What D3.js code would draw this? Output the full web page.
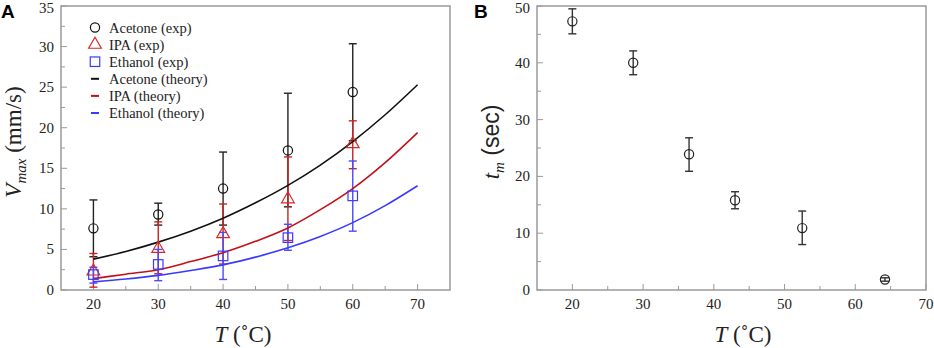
<!DOCTYPE html>
<html>
<head>
<meta charset="utf-8">
<script src="https://cdn.jsdelivr.net/npm/d3@7"></script>
<style>
  body { margin: 0; background: #fff; }
</style>
</head>
<body>
<div id="chart"></div>
<script>
// Data panel A (Vmax vs T)
const tempA = [20, 30, 40, 50, 60];
const acetoneExp = [7.6, 9.3, 12.5, 17.2, 24.4];
const acetoneLo = [4.1, 8.0, 8.0, 10.25, 18.4];
const acetoneHi = [11.1, 10.7, 17.0, 24.25, 30.35];
const ipaExp = [2.3, 5.1, 6.9, 11.2, 18.0];
const ipaLo = [0.35, 2.0, 3.2, 6.1, 14.95];
const ipaHi = [4.5, 8.4, 10.6, 16.4, 20.85];
const ethanolExp = [1.9, 3.15, 4.2, 6.45, 11.6];
const ethanolLo = [0.85, 1.15, 1.3, 4.9, 7.25];
const ethanolHi = [2.8, 5.0, 7.1, 8.1, 15.9];

const tempTheory = [20, 25, 30, 35, 40, 45, 50, 55, 60, 65, 70];
const acetoneTheory = [3.8, 4.75, 5.9, 7.25, 8.85, 10.75, 12.9, 15.4, 18.3, 21.6, 25.3];
const ipaTheory = [1.4, 1.95, 2.5, 3.5, 4.6, 6.0, 7.65, 9.9, 12.5, 15.7, 19.4];
const ethanolTheory = [1.0, 1.35, 1.8, 2.4, 3.1, 4.05, 5.2, 6.6, 8.3, 10.4, 12.85];

// Data panel B (tm vs T)
const tempB = [20, 28.6, 36.5, 43.0, 52.5, 64.2];
const tmVal = [47.3, 40.0, 23.9, 15.8, 10.9, 1.85];
const tmLo = [45.1, 37.9, 20.9, 14.3, 8.0, 1.55];
const tmHi = [49.5, 42.1, 26.8, 17.3, 13.9, 2.15];

const xTicksA = [20, 30, 40, 50, 60, 70];
const yTicksA = [0, 5, 10, 15, 20, 25, 30, 35];
const xTicksB = [20, 30, 40, 50, 60, 70];
const yTicksB = [0, 10, 20, 30, 40, 50];

const width = 934, height = 348;
const serif = "'Liberation Serif', Tinos, 'Times New Roman', 'DejaVu Serif', serif";
const sans = "'Liberation Sans', Arimo, Arial, sans-serif";

const svg = d3.select("#chart").append("svg")
  .attr("width", width).attr("height", height)
  .attr("font-family", serif);

const frameColor = "#9a9a9a";

function drawFrame(g, x, y, xTicks, yTicks, xMinor, yMinor) {
  const [x0, x1] = x.range();
  const [y0, y1] = y.range(); // y0 bottom
  // minor ticks
  g.selectAll(".xminor").data(xMinor).enter().append("line")
    .attr("x1", d => x(d)).attr("x2", d => x(d))
    .attr("y1", y0).attr("y2", y0 - 4)
    .attr("stroke", frameColor).attr("stroke-width", 1);
  g.selectAll(".yminor").data(yMinor).enter().append("line")
    .attr("x1", x0).attr("x2", x0 + 4)
    .attr("y1", d => y(d)).attr("y2", d => y(d))
    .attr("stroke", frameColor).attr("stroke-width", 1);
  g.selectAll(".xmajor").data(xTicks).enter().append("line")
    .attr("x1", d => x(d)).attr("x2", d => x(d))
    .attr("y1", y0).attr("y2", y0 - 6)
    .attr("stroke", frameColor).attr("stroke-width", 1);
  g.selectAll(".ymajor").data(yTicks).enter().append("line")
    .attr("x1", x0).attr("x2", x0 + 6)
    .attr("y1", d => y(d)).attr("y2", d => y(d))
    .attr("stroke", frameColor).attr("stroke-width", 1);
  g.append("rect")
    .attr("x", x0).attr("y", y1)
    .attr("width", x1 - x0).attr("height", y0 - y1)
    .attr("fill", "none").attr("stroke", frameColor).attr("stroke-width", 1.5);
  // tick labels
  g.selectAll(".xlab").data(xTicks).enter().append("text")
    .attr("x", d => x(d)).attr("y", y0 + 19)
    .attr("text-anchor", "middle")
    .attr("font-family", serif)
    .style("font-size", "15px").style("fill", "#222")
    .text(d => d);
  g.selectAll(".ylab").data(yTicks).enter().append("text")
    .attr("x", x0 - 7).attr("y", d => Math.max(y(d) + 5, 13))
    .attr("text-anchor", "end")
    .attr("font-family", serif)
    .style("font-size", "15px").style("fill", "#222")
    .text(d => d);
}

function errBars(g, xs, lo, hi, x, y, color, cap) {
  const rows = xs.map((t, i) => ({ t, lo: lo[i], hi: hi[i] }));
  const eg = g.append("g").attr("stroke", color).attr("stroke-width", 1.4);
  eg.selectAll(".v").data(rows).enter().append("line")
    .attr("x1", d => x(d.t)).attr("x2", d => x(d.t))
    .attr("y1", d => y(d.lo)).attr("y2", d => y(d.hi));
  eg.selectAll(".c1").data(rows).enter().append("line")
    .attr("x1", d => x(d.t) - cap).attr("x2", d => x(d.t) + cap)
    .attr("y1", d => y(d.hi)).attr("y2", d => y(d.hi));
  eg.selectAll(".c2").data(rows).enter().append("line")
    .attr("x1", d => x(d.t) - cap).attr("x2", d => x(d.t) + cap)
    .attr("y1", d => y(d.lo)).attr("y2", d => y(d.lo));
}

const triPath = d3.symbol().type(d3.symbolTriangle).size(70)();
const sqSide = 9.5;

// ---------- Panel A ----------
const gA = svg.append("g");
const xA = d3.scaleLinear().domain([15, 75]).range([61, 450]);
const yA = d3.scaleLinear().domain([0, 35]).range([290, 6]);

drawFrame(gA, xA, yA, xTicksA, yTicksA,
  [25, 35, 45, 55, 65],
  [2.5, 7.5, 12.5, 17.5, 22.5, 27.5, 32.5]);

const cBlack = "#111", cRed = "#c0111a", cRedMk = "#d42a2a", cBlue = "#3a3aff";

errBars(gA, tempA, acetoneLo, acetoneHi, xA, yA, "#222", 4);
errBars(gA, tempA, ipaLo, ipaHi, xA, yA, "#cc2222", 4);
errBars(gA, tempA, ethanolLo, ethanolHi, xA, yA, "#4a4aff", 4);

const line = d3.line().curve(d3.curveMonotoneX)
  .x(d => xA(d[0])).y(d => yA(d[1]));
[[acetoneTheory, cBlack], [ipaTheory, cRed], [ethanolTheory, cBlue]].forEach(([vals, col]) => {
  gA.append("path")
    .datum(tempTheory.map((t, i) => [t, vals[i]]))
    .attr("d", line)
    .attr("fill", "none").attr("stroke", col).attr("stroke-width", 1.6);
});

gA.selectAll(".mkA").data(tempA.map((t, i) => [t, acetoneExp[i]])).enter().append("circle")
  .attr("cx", d => xA(d[0])).attr("cy", d => yA(d[1])).attr("r", 4.6)
  .attr("fill", "none").attr("stroke", "#111").attr("stroke-width", 1.2);
gA.selectAll(".mkI").data(tempA.map((t, i) => [t, ipaExp[i]])).enter().append("path")
  .attr("d", triPath)
  .attr("transform", d => `translate(${xA(d[0])},${yA(d[1])})`)
  .attr("fill", "none").attr("stroke", cRedMk).attr("stroke-width", 1.2);
gA.selectAll(".mkE").data(tempA.map((t, i) => [t, ethanolExp[i]])).enter().append("rect")
  .attr("x", d => xA(d[0]) - sqSide / 2).attr("y", d => yA(d[1]) - sqSide / 2)
  .attr("width", sqSide).attr("height", sqSide)
  .attr("fill", "none").attr("stroke", cBlue).attr("stroke-width", 1.2);

// Legend
const legendItems = [
  { label: "Acetone (exp)", kind: "circle", color: "#111" },
  { label: "IPA (exp)", kind: "tri", color: cRedMk },
  { label: "Ethanol (exp)", kind: "sq", color: cBlue },
  { label: "Acetone (theory)", kind: "line", color: cBlack },
  { label: "IPA (theory)", kind: "line", color: cRed },
  { label: "Ethanol (theory)", kind: "line", color: cBlue }
];
const leg = gA.append("g").attr("transform", "translate(95,27.5)");
legendItems.forEach((d, i) => {
  const row = leg.append("g").attr("transform", `translate(0,${i * 17.1})`);
  if (d.kind === "circle") {
    row.append("circle").attr("r", 4.6).attr("fill", "none").attr("stroke", d.color).attr("stroke-width", 1.2);
  } else if (d.kind === "tri") {
    row.append("path").attr("d", triPath).attr("fill", "none").attr("stroke", d.color).attr("stroke-width", 1.2);
  } else if (d.kind === "sq") {
    row.append("rect").attr("x", -sqSide / 2).attr("y", -sqSide / 2)
      .attr("width", sqSide).attr("height", sqSide)
      .attr("fill", "none").attr("stroke", d.color).attr("stroke-width", 1.2);
  } else {
    row.append("line").attr("x1", -4).attr("x2", 4).attr("stroke", d.color).attr("stroke-width", 2);
  }
  row.append("text").attr("x", 14).attr("y", 5)
    .attr("font-family", serif)
    .style("font-size", "14.5px").style("fill", "#222").text(d.label);
});

// Axis titles A
const ytA = gA.append("text")
  .attr("transform", "translate(21,142) rotate(-90)")
  .attr("text-anchor", "middle")
  .attr("font-family", serif)
  .style("font-size", "23px").style("fill", "#222");
ytA.append("tspan").style("font-style", "italic").text("V");
ytA.append("tspan").style("font-style", "italic").style("font-size", "15px").attr("dy", 5).text("max");
ytA.append("tspan").attr("dy", -5).text(" (mm/s)");

const xtA = gA.append("text")
  .attr("x", 243).attr("y", 342)
  .attr("text-anchor", "middle")
  .attr("font-family", serif)
  .style("font-size", "23px").style("fill", "#222");
xtA.append("tspan").style("font-style", "italic").text("T");
xtA.append("tspan").text(" (˚C)");

gA.append("text").attr("x", 1).attr("y", 18)
  .attr("font-family", sans)
  .style("font-weight", "bold").style("font-size", "19px").text("A");

// ---------- Panel B ----------
const gB = svg.append("g");
const xB = d3.scaleLinear().domain([15, 70]).range([537, 926]);
const yB = d3.scaleLinear().domain([0, 50]).range([290, 6]);

drawFrame(gB, xB, yB, xTicksB, yTicksB,
  [25, 35, 45, 55, 65],
  [5, 15, 25, 35, 45]);

errBars(gB, tempB, tmLo, tmHi, xB, yB, "#333", 4);
gB.selectAll(".mkB").data(tempB.map((t, i) => [t, tmVal[i]])).enter().append("circle")
  .attr("cx", d => xB(d[0])).attr("cy", d => yB(d[1])).attr("r", 4.6)
  .attr("fill", "none").attr("stroke", "#222").attr("stroke-width", 1.2);

const ytB = gB.append("text")
  .attr("transform", "translate(499,142) rotate(-90)")
  .attr("text-anchor", "middle")
  .attr("font-family", serif)
  .style("font-size", "23px").style("fill", "#222");
ytB.append("tspan").style("font-style", "italic").text("t");
ytB.append("tspan").style("font-style", "italic").style("font-size", "15px").attr("dy", 5).text("m");
ytB.append("tspan").attr("dy", -5)
  .attr("font-family", sans).text(" (sec)");

const xtB = gB.append("text")
  .attr("x", 743).attr("y", 342)
  .attr("text-anchor", "middle")
  .attr("font-family", serif)
  .style("font-size", "23px").style("fill", "#222");
xtB.append("tspan").style("font-style", "italic").text("T");
xtB.append("tspan").text(" (˚C)");

gB.append("text").attr("x", 474).attr("y", 18)
  .attr("font-family", sans)
  .style("font-weight", "bold").style("font-size", "19px").text("B");
</script>
</body>
</html>
